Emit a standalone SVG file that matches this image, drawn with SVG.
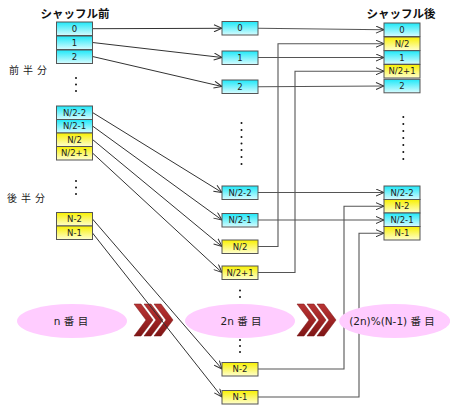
<svg xmlns="http://www.w3.org/2000/svg" width="450" height="411" viewBox="0 0 450 411">
<style>
.bc{fill:url(#gc);stroke:#555;stroke-width:1}
.by{fill:url(#gy);stroke:#555;stroke-width:1}
.bt{font-family:"DejaVu Sans","Noto Sans",sans-serif;font-size:8.5px;fill:#222;text-anchor:middle}
.ttl{font-family:"Noto Sans CJK JP",sans-serif;font-size:11.5px;font-weight:bold;fill:#111;text-anchor:middle}
.side{font-family:"Noto Sans CJK JP",sans-serif;font-size:10px;fill:#222;letter-spacing:4px}
.el{fill:#ffccff}
.et{font-family:"DejaVu Sans","Noto Sans CJK JP",sans-serif;font-size:10.5px;fill:#222;text-anchor:middle}
.cn{fill:none;stroke:#333;stroke-width:1;marker-end:url(#ah)}
.cg{fill:none;stroke:#555;stroke-width:1.1;marker-end:url(#ah)}
.dot{fill:#111}
.chev{fill:url(#gr);stroke:#7a1515;stroke-width:0.5}
</style>
<defs>
<linearGradient id="gc" x1="0" y1="0" x2="0" y2="1"><stop offset="0" stop-color="#1ee8f8"/><stop offset="1" stop-color="#d8fcff"/></linearGradient>
<linearGradient id="gy" x1="0" y1="0" x2="0" y2="1"><stop offset="0" stop-color="#f8f000"/><stop offset="1" stop-color="#ffffd0"/></linearGradient>
<linearGradient id="gr" x1="0" y1="0" x2="0" y2="1"><stop offset="0" stop-color="#b83434"/><stop offset="0.5" stop-color="#a02424"/><stop offset="1" stop-color="#7e1616"/></linearGradient>
<marker id="ah" viewBox="0 0 9 8" refX="8.5" refY="4" markerWidth="9" markerHeight="8" markerUnits="userSpaceOnUse" orient="auto"><path d="M0.5,0.5 L8.5,4 L0.5,7.5" fill="none" stroke="#333" stroke-width="1"/></marker>
</defs>

<g id="titles">
<text class="ttl" x="75" y="18">シャッフル前</text>
<text class="ttl" x="401" y="18">シャッフル後</text>
<text class="side" x="9" y="74">前半分</text>
<text class="side" x="7" y="202">後半分</text>
</g>

<g id="chevrons">
<polygon class="chev" points="134,304 141,304 153,320 141,336 134,336 146,320"/>
<polygon class="chev" points="144,304 151,304 163,320 151,336 144,336 156,320"/>
<polygon class="chev" points="154,304 161,304 173,320 161,336 154,336 166,320"/>
<polygon class="chev" points="297,304 304,304 316,320 304,336 297,336 309,320"/>
<polygon class="chev" points="307,304 314,304 326,320 314,336 307,336 319,320"/>
<polygon class="chev" points="317,304 324,304 336,320 324,336 317,336 329,320"/>
</g>

<g id="connectors">
<path class="cn" d="M92.5,28.7 L222,28.3"/>
<path class="cn" d="M92.5,42.5 L222,57.5"/>
<path class="cn" d="M92.5,56.5 L222,86.5"/>
<path class="cn" d="M92.5,112.5 L222,192.5"/>
<path class="cn" d="M92.5,126 L222,220"/>
<path class="cn" d="M92.5,139.5 L222,246.5"/>
<path class="cn" d="M92.5,153 L222,272.5"/>
<path class="cn" d="M92.5,219 L222,369"/>
<path class="cn" d="M92.5,233 L222,397"/>
<path class="cg" d="M258,28.3 L384,29.7"/>
<path class="cg" d="M258,57.5 L384,57.5"/>
<path class="cg" d="M258,86.8 L384,86"/>
<path class="cg" d="M258,246.5 H278 V43.7 H384"/>
<path class="cg" d="M258,272.5 H295 V71.2 H384"/>
<path class="cg" d="M258,192.5 L384,192.5"/>
<path class="cg" d="M258,220 L384,220"/>
<path class="cg" d="M258,369 H344 V206.2 H384"/>
<path class="cg" d="M258,397 H359 V233.2 H384"/>
</g>

<g id="before">
<g id="b0"><rect class="bc" x="56.5" y="22" width="36" height="13.5"/><text class="bt" x="74.5" y="31.8">0</text></g>
<g id="b1"><rect class="bc" x="56.5" y="36" width="36" height="13.5"/><text class="bt" x="74.5" y="45.8">1</text></g>
<g id="b2"><rect class="bc" x="56.5" y="50" width="36" height="13.5"/><text class="bt" x="74.5" y="59.8">2</text></g>
<g id="bN2m2"><rect class="bc" x="56.5" y="106" width="36" height="13.5"/><text class="bt" x="74.5" y="115.8">N/2-2</text></g>
<g id="bN2m1"><rect class="bc" x="56.5" y="119.5" width="36" height="13.5"/><text class="bt" x="74.5" y="129.3">N/2-1</text></g>
<g id="bN2"><rect class="by" x="56.5" y="133" width="36" height="13.5"/><text class="bt" x="74.5" y="142.8">N/2</text></g>
<g id="bN2p1"><rect class="by" x="56.5" y="146.5" width="36" height="13.5"/><text class="bt" x="74.5" y="156.3">N/2+1</text></g>
<g id="bNm2"><rect class="by" x="56.5" y="212.5" width="36" height="13.5"/><text class="bt" x="74.5" y="222.3">N-2</text></g>
<g id="bNm1"><rect class="by" x="56.5" y="226" width="36" height="13.5"/><text class="bt" x="74.5" y="235.8">N-1</text></g>
</g>

<g id="middle">
<g id="m0"><rect class="bc" x="222" y="21.5" width="36" height="13.5"/><text class="bt" x="240" y="31.3">0</text></g>
<g id="m1"><rect class="bc" x="222" y="51" width="36" height="13.5"/><text class="bt" x="240" y="60.8">1</text></g>
<g id="m2"><rect class="bc" x="222" y="80" width="36" height="13.5"/><text class="bt" x="240" y="89.8">2</text></g>
<g id="mN2m2"><rect class="bc" x="222" y="186" width="36" height="13.5"/><text class="bt" x="240" y="195.8">N/2-2</text></g>
<g id="mN2m1"><rect class="bc" x="222" y="213.5" width="36" height="13.5"/><text class="bt" x="240" y="223.3">N/2-1</text></g>
<g id="mN2"><rect class="by" x="222" y="240" width="36" height="13.5"/><text class="bt" x="240" y="249.8">N/2</text></g>
<g id="mN2p1"><rect class="by" x="222" y="266" width="36" height="13.5"/><text class="bt" x="240" y="275.8">N/2+1</text></g>
<g id="mNm2"><rect class="by" x="222" y="362.5" width="36" height="13.5"/><text class="bt" x="240" y="372.3">N-2</text></g>
<g id="mNm1"><rect class="by" x="222" y="390.5" width="36" height="13.5"/><text class="bt" x="240" y="400.3">N-1</text></g>
</g>

<g id="after">
<g id="a0"><rect class="bc" x="384" y="23" width="36" height="13.5"/><text class="bt" x="402" y="32.8">0</text></g>
<g id="aN2"><rect class="by" x="384" y="37" width="36" height="13.5"/><text class="bt" x="402" y="46.8">N/2</text></g>
<g id="a1"><rect class="bc" x="384" y="50.7" width="36" height="13.5"/><text class="bt" x="402" y="60.5">1</text></g>
<g id="aN2p1"><rect class="by" x="384" y="64.5" width="36" height="13.5"/><text class="bt" x="402" y="74.3">N/2+1</text></g>
<g id="a2"><rect class="bc" x="384" y="79.3" width="36" height="13.5"/><text class="bt" x="402" y="89.1">2</text></g>
<g id="aN2m2"><rect class="bc" x="384" y="186" width="36" height="13.5"/><text class="bt" x="402" y="195.8">N/2-2</text></g>
<g id="aNm2"><rect class="by" x="384" y="199.5" width="36" height="13.5"/><text class="bt" x="402" y="209.3">N-2</text></g>
<g id="aN2m1"><rect class="bc" x="384" y="213" width="36" height="13.5"/><text class="bt" x="402" y="222.8">N/2-1</text></g>
<g id="aNm1"><rect class="by" x="384" y="226.5" width="36" height="13.5"/><text class="bt" x="402" y="236.3">N-1</text></g>
</g>

<g id="dots">
<circle class="dot" cx="76" cy="78" r="1"/><circle class="dot" cx="76" cy="84.5" r="1"/><circle class="dot" cx="76" cy="91" r="1"/>
<circle class="dot" cx="76" cy="181" r="1"/><circle class="dot" cx="76" cy="187.5" r="1"/><circle class="dot" cx="76" cy="194" r="1"/>
<circle class="dot" cx="241.5" cy="123" r="1"/><circle class="dot" cx="241.5" cy="130" r="1"/><circle class="dot" cx="241.5" cy="137" r="1"/><circle class="dot" cx="241.5" cy="143.5" r="1"/><circle class="dot" cx="241.5" cy="150" r="1"/><circle class="dot" cx="241.5" cy="157" r="1"/><circle class="dot" cx="241.5" cy="164" r="1"/>
<circle class="dot" cx="403.3" cy="117" r="1"/><circle class="dot" cx="403.3" cy="124" r="1"/><circle class="dot" cx="403.3" cy="131" r="1"/><circle class="dot" cx="403.3" cy="138" r="1"/><circle class="dot" cx="403.3" cy="145" r="1"/><circle class="dot" cx="403.3" cy="152" r="1"/><circle class="dot" cx="403.3" cy="159" r="1"/>
<circle class="dot" cx="240" cy="290.5" r="1"/><circle class="dot" cx="240" cy="297" r="1"/>
<circle class="dot" cx="240" cy="340" r="1"/><circle class="dot" cx="240" cy="346" r="1"/><circle class="dot" cx="240" cy="352" r="1"/>
</g>

<g id="labels">
<g id="e1"><ellipse class="el" cx="72" cy="321" rx="55" ry="17"/><text class="et" x="71" y="324.8">n 番 目</text></g>
<g id="e2"><ellipse class="el" cx="240" cy="321" rx="55" ry="17"/><text class="et" x="241" y="324.8">2n 番 目</text></g>
<g id="e3"><ellipse class="el" cx="394.7" cy="321" rx="55.5" ry="17"/><text class="et" x="392" y="324.8">(2n)%(N-1) 番 目</text></g>
</g>
</svg>
